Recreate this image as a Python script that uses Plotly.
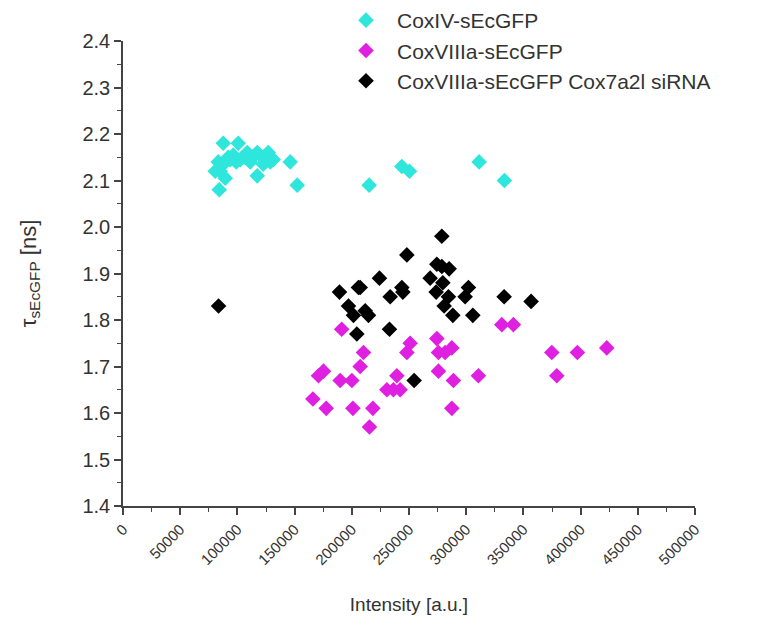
import plotly.graph_objects as go

# CoxIV-sEcGFP
cyan_x = [87630, 100730, 83260, 85010, 87630, 92000, 96370, 102490, 108600, 111230,
          117340, 121710, 126950, 128700, 131320, 122580, 80640, 89380, 117340, 84130,
          93740, 98990, 105980, 112970,
          146160, 152280, 215180, 243750, 250390, 311290, 333400]
cyan_y = [2.18, 2.18, 2.14, 2.12, 2.135, 2.15, 2.155, 2.145, 2.16, 2.14,
          2.16, 2.15, 2.16, 2.14, 2.145, 2.135, 2.12, 2.105, 2.11, 2.08,
          2.145, 2.14, 2.15, 2.15,
          2.14, 2.09, 2.09, 2.13, 2.12, 2.14, 2.10]

# CoxVIIIa-sEcGFP
mag_x = [191150, 251010, 274340, 248130, 210230, 275740, 281590, 287440, 207330, 175260,
         170890, 189850, 200050, 239390, 275740, 288840, 310680, 230660, 236420, 242270,
         166000, 177620, 200950, 218420, 287440, 215450, 331130, 341240, 374820, 397200,
         422860, 379190]
mag_y = [1.78, 1.75, 1.76, 1.73, 1.73, 1.73, 1.73, 1.74, 1.70, 1.69,
         1.68, 1.67, 1.67, 1.68, 1.69, 1.67, 1.68, 1.65, 1.65, 1.65,
         1.63, 1.61, 1.61, 1.61, 1.61, 1.57, 1.79, 1.79, 1.73, 1.73,
         1.74, 1.68]

# CoxVIIIa-sEcGFP Cox7a2l siRNA
blk_x = [83530, 189240, 197100, 201470, 204400, 205800, 278700, 248130, 224190, 207330,
         243750, 244630, 233540, 274340, 278710, 285090, 268490, 279580, 273730, 284480,
         280720, 288320, 301950, 299060, 305800, 333140, 356730, 211700, 214580, 232940,
         254510]
blk_y = [1.83, 1.86, 1.83, 1.81, 1.77, 1.87, 1.98, 1.94, 1.89, 1.87,
         1.87, 1.86, 1.85, 1.92, 1.915, 1.91, 1.89, 1.88, 1.86, 1.85,
         1.83, 1.81, 1.87, 1.85, 1.81, 1.85, 1.84, 1.82, 1.81, 1.78,
         1.67]

names = ["CoxIV-sEcGFP", "CoxVIIIa-sEcGFP", "CoxVIIIa-sEcGFP Cox7a2l siRNA"]
colors = ["#2ee6dc", "#e020e0", "#000000"]

fig = go.Figure()
for xs, ys, nm, c in [(cyan_x, cyan_y, names[0], colors[0]),
                      (mag_x, mag_y, names[1], colors[1]),
                      (blk_x, blk_y, names[2], colors[2])]:
    fig.add_trace(go.Scatter(x=xs, y=ys, mode="markers", name=nm,
                             marker=dict(symbol="diamond", size=12, color=c,
                                         line=dict(width=0))))

axcol = "#444444"
txtcol = "#333333"
fig.update_layout(
    width=780, height=640,
    margin=dict(l=123, r=85, t=41, b=134, autoexpand=False),
    plot_bgcolor="white", paper_bgcolor="white",
    font=dict(family="Liberation Sans, Arial, sans-serif", color=txtcol),
    showlegend=True,
    legend=dict(x=(335 - 123) / 572, y=1.0, xref="paper", yref="container",
                xanchor="left", yanchor="top",
                font=dict(size=21, color=txtcol), bgcolor="rgba(0,0,0,0)",
                tracegroupgap=0, itemsizing="constant", itemwidth=52),
)
fig.update_xaxes(range=[0, 500000], tickmode="linear", tick0=0, dtick=50000, tickformat="d",
                 showgrid=False, zeroline=False, showline=True, linecolor=axcol, linewidth=1.5,
                 ticks="outside", ticklen=7, tickwidth=1.5, tickcolor=axcol,
                 minor=dict(dtick=25000, ticks="outside", ticklen=4, tickwidth=1, tickcolor=axcol),
                 tickangle=-45, tickfont=dict(size=15, color=txtcol),
                 title=dict(text="Intensity [a.u.]", font=dict(size=19, color=txtcol), standoff=31))
fig.update_yaxes(range=[1.4, 2.4], tickmode="linear", tick0=1.4, dtick=0.1, tickformat=".1f",
                 showgrid=False, zeroline=False, showline=True, linecolor=axcol, linewidth=1.5,
                 ticks="outside", ticklen=7, tickwidth=1.5, tickcolor=axcol,
                 minor=dict(dtick=0.05, ticks="outside", ticklen=4, tickwidth=1, tickcolor=axcol),
                 tickfont=dict(size=20, color=txtcol),
                 title=dict(text="τ<sub>sEcGFP</sub> [ns]", font=dict(size=22, color=txtcol), standoff=40))

fig.write_html("out.html")
